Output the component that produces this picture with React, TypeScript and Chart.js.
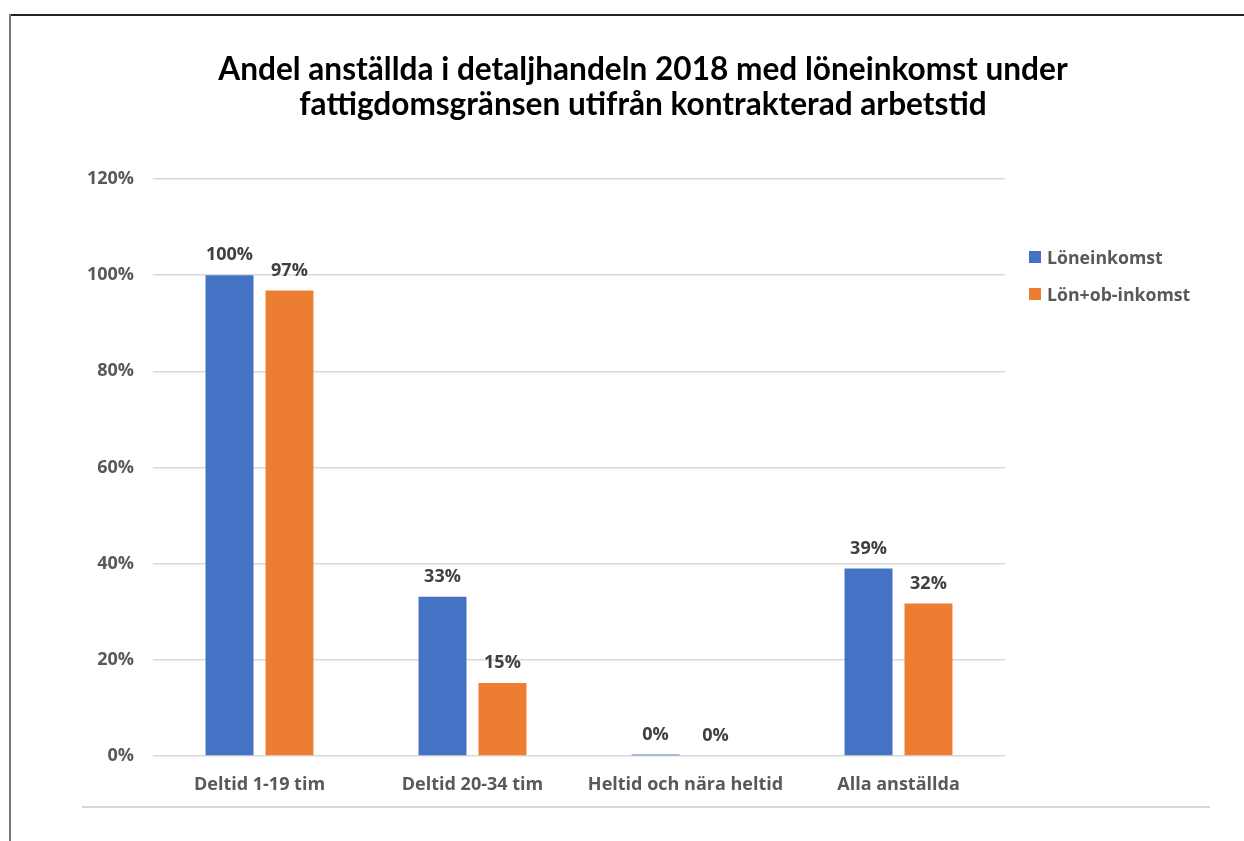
import React, { useEffect, useRef } from "react";
import { Chart, registerables } from "chart.js";

Chart.register(...registerables);

const categories = ["Deltid 1-19 tim", "Deltid 20-34 tim", "Heltid och nära heltid", "Alla anställda"];
const loneinkomst = [100, 33.1, 0.3, 39];
const lonObInkomst = [96.8, 15.2, 0, 31.7];
const seriesNames = ["Löneinkomst", "Lön+ob-inkomst"];
const dataLabels1 = ["100%", "33%", "0%", "39%"];
const dataLabels2 = ["97%", "15%", "0%", "32%"];
const titleLines = [
  "Andel anställda i detaljhandeln 2018 med löneinkomst under",
  "fattigdomsgränsen utifrån kontrakterad arbetstid",
];
const yTicks = [0, 20, 40, 60, 80, 100, 120];

const BLUE = "#4472C4";
const ORANGE = "#ED7D31";
const TICK_FONT = "'Open Sans', sans-serif";

const labelPlugin = {
  id: "valueLabels",
  afterDatasetsDraw(chart: any) {
    const ctx = chart.ctx;
    const labelsets = [dataLabels1, dataLabels2];
    ctx.save();
    ctx.font = `bold 18px ${TICK_FONT}`;
    ctx.fillStyle = "#404040";
    ctx.textAlign = "center";
    ctx.textBaseline = "middle";
    chart.data.datasets.forEach((_: any, di: number) => {
      const meta = chart.getDatasetMeta(di);
      meta.data.forEach((bar: any, i: number) => {
        ctx.fillText(labelsets[di][i], bar.x, bar.y - 20);
      });
    });
    ctx.restore();
  },
};

export default function App() {
  const ref = useRef<HTMLCanvasElement | null>(null);
  useEffect(() => {
    if (!ref.current) return;
    const chart = new Chart(ref.current, {
      type: "bar",
      data: {
        labels: categories,
        datasets: [
          { label: seriesNames[0], data: loneinkomst, backgroundColor: BLUE },
          { label: seriesNames[1], data: lonObInkomst, backgroundColor: ORANGE },
        ],
      },
      options: {
        animation: false,
        responsive: false,
        maintainAspectRatio: false,
        layout: { padding: { left: 0, right: 239, top: 179, bottom: 0 } },
        datasets: { bar: { categoryPercentage: 0.563, barPercentage: 0.8 } },
        plugins: {
          legend: { display: false },
          tooltip: { enabled: false },
          title: { display: false },
        },
        scales: {
          x: {
            grid: { display: false, drawTicks: false },
            border: { display: false },
            ticks: {
              color: "#595959",
              font: { family: TICK_FONT, size: 18, weight: "bold" },
              padding: 18,
              maxRotation: 0,
              autoSkip: false,
            },
            afterFit(scale: any) {
              scale.height = 85;
            },
          },
          y: {
            min: 0,
            max: 120,
            afterBuildTicks(scale: any) {
              scale.ticks = yTicks.map((v) => ({ value: v }));
            },
            grid: { color: "#D9D9D9", lineWidth: 1.5, drawTicks: false },
            border: { display: false },
            ticks: {
              color: "#595959",
              font: { family: TICK_FONT, size: 18, weight: "bold" },
              padding: 19,
              callback: (v: any) => `${v}%`,
            },
            afterFit(scale: any) {
              scale.width = 153;
            },
          },
        },
      },
      plugins: [labelPlugin],
    });
    return () => chart.destroy();
  }, []);

  const legendItem = (name: string, color: string, top: number) => (
    <div
      style={{
        position: "absolute",
        left: 1029,
        top,
        display: "flex",
        alignItems: "center",
        fontFamily: TICK_FONT,
        fontWeight: "bold",
        fontSize: 17.7,
        lineHeight: "24px",
        color: "#595959",
        whiteSpace: "nowrap",
      }}
    >
      <span style={{ display: "inline-block", width: 12, height: 12, background: color, marginRight: 6 }} />
      {name}
    </div>
  );

  return (
    <div style={{ position: "absolute", left: 0, top: 0, width: 1244, height: 841, background: "#fff", overflow: "hidden" }}>
      <canvas ref={ref} width={1244} height={841} style={{ position: "absolute", left: 0, top: 0 }} />
      <div
        style={{
          position: "absolute",
          left: 0,
          top: 51,
          width: 1286,
          textAlign: "center",
          fontFamily: "Lato, sans-serif",
          fontWeight: "bold",
          fontSize: 31.6,
          lineHeight: "35px",
          color: "#000",
        }}
      >
        {titleLines.map((l, i) => (
          <div key={i}>{l}</div>
        ))}
      </div>
      <div style={{ position: "absolute", left: 10, top: 14, width: 1234, height: 2, background: "#222" }} />
      <div style={{ position: "absolute", left: 9, top: 14, width: 2, height: 827, background: "#777" }} />
      <div style={{ position: "absolute", left: 82, top: 806, width: 1128, height: 2, background: "#D9D9D9" }} />
      {legendItem(seriesNames[0], BLUE, 245)}
      {legendItem(seriesNames[1], ORANGE, 282)}
    </div>
  );
}
